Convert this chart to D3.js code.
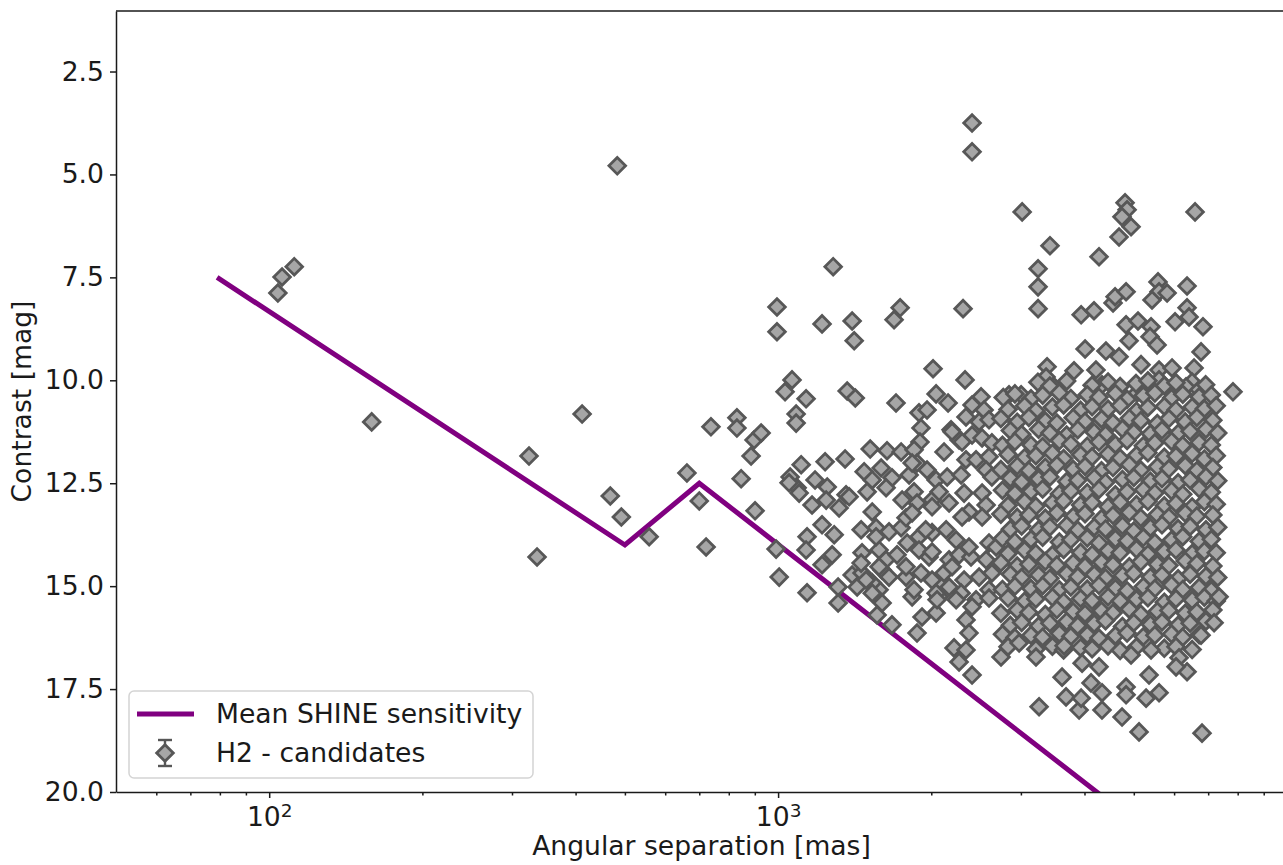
<!DOCTYPE html>
<html>
<head>
<meta charset="utf-8">
<title>H2 candidates vs mean SHINE sensitivity</title>
<script src="https://cdn.jsdelivr.net/npm/d3@7"></script>
<style>
  body { margin: 0; background: #fff; }
  svg text { font-family: "DejaVu Sans", sans-serif; fill: #1a1a1a; }
</style>
</head>
<body>
<svg id="chart" width="1283" height="865"></svg>
<script>
// mean SHINE sensitivity curve [separation mas, contrast mag]
var sensitivity = [[79, 7.5], [500, 14.0], [700, 12.5], [5000, 20.7]];

// tick values
var xMajorTicks = [100, 1000];
var xMinorTicks = [60, 70, 80, 90, 200, 300, 400, 500, 600, 700, 800, 900,
                   2000, 3000, 4000, 5000, 6000, 7000, 8000, 9000];
var yTicks = [2.5, 5.0, 7.5, 10.0, 12.5, 15.0, 17.5, 20.0];

// H2 candidates [separation mas, contrast mag]
var farOutliers = [[104,7.88],[106,7.49],[112,7.24],[159,11.01],[324,11.84],[336,14.29],[412,10.82],
  [468,12.81],[483,4.79],[492,13.32],[558,13.80],[662,12.25],[700,12.93],[722,14.05],[738,11.13],
  [830,10.91],[830,11.16],[846,12.39],[885,11.84],[897,11.45],[926,11.28],[901,13.17]];

var upperScatter = [[995,8.22],[995,8.82],[1283,7.24],[1220,8.63],[1398,8.56],[1411,9.04],[1737,8.24],
  [1690,8.53],[2309,8.26],[2405,3.75],[2405,4.45],[3017,5.91],[3422,6.73],[3242,7.29],[3242,7.73],
  [3242,8.26],[4272,7.00],[4806,5.69],[4850,5.86],[4740,6.03],[4938,6.27],[4677,6.52],[6597,5.91],
  [5579,7.61],[5605,7.85],[5813,7.88],[5430,8.05],[6362,7.71],[6362,8.24],[6026,8.58],[6420,8.46],
  [6838,8.70],[6778,9.31],[7832,10.28],[3940,8.41],[4176,8.31],[4552,8.12],[4594,7.97],[4828,7.85],
  [4828,8.65],[5096,8.56],[5406,8.70],[4894,9.04],[5381,8.94],[5555,9.14],[4011,9.24],[3815,9.77],
  [4408,9.29],[4677,9.43],[4213,9.75],[3377,9.67],[3362,9.92],[3486,10.16],[5166,9.62],[5605,9.75],
  [5945,9.70],[6567,9.70],[6507,10.04],[5605,9.99],[5075,10.31],[4330,10.11],[6333,10.16],[6717,10.23],
  [2330,9.99],[2505,10.40],[2843,10.35],[3003,10.35],[2016,9.72],[1065,9.99],[1032,10.28],[1135,10.45],
  [1367,10.26],[1418,10.43],[1705,10.55],[1085,10.82],[1085,11.04],[2044,10.33],[2158,10.55],
  [1892,10.79],[1962,10.72],[1909,11.16],[1900,11.50]];

var leftCluster = [[1517,11.67],[1637,11.71],[1745,11.74],[1354,11.91],[1237,11.98],[1110,12.05],
  [1056,12.35],[1090,12.61],[1182,12.42],[1249,12.59],[1476,12.22],[1594,12.13],[1531,12.42],
  [1674,12.37],[1166,13.03],[1243,12.91],[1318,13.10],[1360,12.78],[1100,12.74],[1051,12.49],
  [1140,13.80],[1135,14.12],[1220,13.51],[1289,13.75],[1220,14.48],[1277,14.24],[1312,15.02],
  [1312,15.41],[1140,15.16],[991,14.10],[1005,14.78],[1456,13.63],[1531,13.20],[1462,14.19],
  [1398,14.73],[1430,15.02],[1579,15.09],[1601,15.41],[1565,15.70],[1674,15.94],[1875,16.14],
  [1918,15.75],[1834,15.26],[1784,14.78],[2217,16.50],[2340,16.55],[2268,16.84],[2405,17.16],
  [2044,15.65],[2072,15.26],[2100,14.92],[2405,10.60],[2540,10.72],[2340,10.89],[2483,11.01],
  [2597,10.96],[2187,11.20],[2268,11.45],[2405,11.33],[2517,11.40],[2631,11.52],[1850,11.69],
  [2119,11.74],[2340,11.93],[2449,11.93],[2597,11.86],[1809,12.30],[1875,12.01],[1962,12.18],
  [2044,12.42],[2149,12.35],[2289,12.30],[2563,12.18],[2631,12.35],[1379,12.83],[1496,12.71],
  [1630,12.61],[1753,12.91],[1850,12.71],[1875,12.98],[2007,12.91],[2072,12.71],[2168,12.98],
  [2320,12.74],[2372,13.20],[2517,12.74],[2563,13.03],[2517,13.32],[1558,13.58],[1652,13.68],
  [1745,13.58],[1784,13.34],[1892,13.80],[2007,13.70],[2139,13.63],[2238,13.88],[1579,14.12],
  [1630,14.36],[1713,14.24],[1793,13.95],[1892,14.12],[1980,14.29],[2168,14.36],[2268,14.24],
  [2394,14.29],[2597,13.95],[2563,14.36],[2682,14.05],[1462,14.68],[1531,14.92],[1601,14.61],
  [1652,14.78],[1784,14.53],[1850,15.09],[1909,14.68],[2007,14.85],[2044,15.17],[2119,14.68],
  [2168,15.02],[2320,14.85],[2483,14.78],[2597,15.09],[2631,14.68],[1531,15.17],[2053,15.33],
  [2289,15.17],[2449,15.33],[2597,15.29],[1558,13.80],[1579,14.53],[1456,14.44],[1489,14.85],
  [1834,13.22],[2007,13.07],[1950,13.63],[2007,14.17],[2197,14.53],[2299,13.32],[2372,14.05],
  [2238,15.33],[2405,15.50],[2340,15.82],[2372,16.14],[2197,11.25],[2299,11.50],[1834,12.01]];

var coreCluster = [
  [3240,10.05],[3420,10.14],[3690,10.02],[4140,10.12],[4450,10.04],[4700,10.15],[5050,10.08],[5330,10.01],[5740,10.13],[6050,10.06],[6920,10.11],
  [2770,10.42],[2920,10.33],[3140,10.45],[3310,10.36],[3570,10.30],[3760,10.44],[4050,10.35],[4270,10.41],[4600,10.32],[4850,10.46],[5220,10.37],[5500,10.31],[5930,10.43],[6240,10.34],[6720,10.40],[7100,10.36],
  [2830,10.71],[3050,10.62],[3210,10.74],[3460,10.65],[3640,10.60],[3930,10.73],[4140,10.64],[4450,10.70],[4700,10.61],[5060,10.75],[5330,10.66],[5740,10.63],[6050,10.72],[6510,10.65],[6880,10.69],[7260,10.62],
  [2740,10.93],[2950,11.02],[3110,10.90],[3350,10.99],[3530,11.04],[3800,10.91],[4010,11.00],[4320,10.94],[4550,11.03],[4900,10.92],[5160,10.98],[5560,11.05],[5860,10.93],[6310,11.01],[6650,10.90],[7150,10.97],
  [2860,11.22],[3010,11.31],[3250,11.19],[3420,11.28],[3690,11.33],[3880,11.20],[4180,11.26],[4400,11.32],[4750,11.18],[5000,11.27],[5390,11.30],[5680,11.21],[6110,11.29],[6450,11.24],[6930,11.19],[7310,11.28],
  [2760,11.58],[2920,11.49],[3140,11.57],[3310,11.61],[3570,11.47],[3760,11.55],[4050,11.60],[4270,11.50],[4600,11.56],[4850,11.46],[5220,11.59],[5500,11.52],[5930,11.48],[6240,11.58],[6720,11.51],[7100,11.57],
  [2830,11.80],[3050,11.88],[3210,11.83],[3460,11.77],[3640,11.90],[3930,11.81],[4140,11.86],[4450,11.79],[4700,11.89],[5060,11.82],[5330,11.76],[5740,11.87],[6050,11.84],[6510,11.78],[6880,11.91],[7260,11.83],
  [2740,12.17],[2950,12.08],[3110,12.19],[3350,12.11],[3530,12.06],[3800,12.16],[4010,12.09],[4320,12.20],[4550,12.12],[4900,12.05],[5160,12.18],[5560,12.10],[5860,12.15],[6310,12.07],[6650,12.19],[7150,12.12],
  [2860,12.38],[3010,12.47],[3250,12.40],[3420,12.35],[3690,12.46],[3880,12.43],[4180,12.37],[4400,12.48],[4750,12.41],[5000,12.36],[5390,12.45],[5680,12.39],[6110,12.49],[6450,12.42],[6930,12.34],[7310,12.44],
  [2760,12.67],[2920,12.75],[3140,12.70],[3310,12.64],[3570,12.76],[3760,12.69],[4050,12.73],[4270,12.65],[4600,12.78],[4850,12.71],[5220,12.66],[5500,12.74],[5930,12.68],[6240,12.77],[6720,12.63],[7100,12.72],
  [2830,13.04],[3050,12.95],[3210,13.06],[3460,12.98],[3640,12.93],[3930,13.03],[4140,12.97],[4450,13.07],[4700,12.96],[5060,13.02],[5330,12.94],[5740,13.05],[6050,12.99],[6510,13.08],[6880,12.95],[7260,13.01],
  [2740,13.25],[2950,13.33],[3110,13.27],[3350,13.35],[3530,13.22],[3800,13.31],[4010,13.24],[4320,13.36],[4550,13.28],[4900,13.21],[5160,13.34],[5560,13.26],[5860,13.32],[6310,13.23],[6650,13.30],[7150,13.27],
  [2860,13.62],[3010,13.54],[3250,13.63],[3420,13.56],[3690,13.52],[3880,13.64],[4180,13.57],[4400,13.61],[4750,13.53],[5000,13.66],[5390,13.58],[5680,13.51],[6110,13.60],[6450,13.55],[6930,13.63],[7310,13.57],
  [2760,13.84],[2920,13.92],[3140,13.86],[3310,13.81],[3570,13.93],[3760,13.87],[4050,13.83],[4270,13.95],[4600,13.85],[4850,13.90],[5220,13.82],[5500,13.94],[5930,13.88],[6240,13.80],[6720,13.91],[7100,13.86],
  [2830,14.21],[3050,14.13],[3210,14.20],[3460,14.24],[3640,14.11],[3930,14.18],[4140,14.23],[4450,14.14],[4700,14.19],[5060,14.10],[5330,14.22],[5740,14.16],[6050,14.12],[6510,14.21],[6880,14.15],[7260,14.19],
  [2740,14.43],[2950,14.51],[3110,14.47],[3350,14.40],[3530,14.49],[3800,14.44],[4010,14.52],[4320,14.42],[4550,14.48],[4900,14.53],[5160,14.41],[5560,14.47],[5860,14.50],[6310,14.39],[6650,14.45],[7150,14.51],
  [2860,14.71],[3010,14.79],[3250,14.73],[3420,14.81],[3690,14.70],[3880,14.77],[4180,14.72],[4400,14.80],[4750,14.74],[5000,14.69],[5390,14.78],[5680,14.73],[6110,14.82],[6450,14.71],[6930,14.76],[7310,14.79],
  [2760,15.08],[2920,15.00],[3140,15.06],[3310,14.99],[3570,15.09],[3760,15.02],[4050,15.07],[4270,14.98],[4600,15.05],[4850,15.11],[5220,15.01],[5500,15.06],[5930,14.97],[6240,15.08],[6720,15.03],[7100,15.10],
  [2830,15.29],[3050,15.37],[3210,15.31],[3460,15.27],[3640,15.38],[3930,15.30],[4140,15.35],[4450,15.26],[4700,15.36],[5060,15.32],[5330,15.28],[5740,15.39],[6050,15.31],[6510,15.34],[6880,15.27],[7260,15.36],
  [2740,15.66],[2950,15.58],[3110,15.64],[3350,15.69],[3530,15.57],[3800,15.62],[4010,15.67],[4320,15.60],[4550,15.65],[4900,15.56],[5160,15.68],[5560,15.61],[5860,15.59],[6310,15.66],[6650,15.63],[7150,15.58],
  [2860,15.95],[3010,15.88],[3250,15.97],[3420,15.90],[3690,15.86],[3880,15.96],[4180,15.91],[4400,15.84],[4750,15.98],[5000,15.89],[5390,15.93],[5680,15.87],[6110,15.95],[6450,15.90],[6930,15.85],
  [2760,16.17],[2920,16.25],[3140,16.19],[3310,16.24],[3570,16.15],[3760,16.22],[4050,16.18],[4270,16.26],[4600,16.20],[4850,16.14],[5220,16.23],[5500,16.19],[5930,16.16],[6240,16.24],[6720,16.18],
  [2830,16.47],[3210,16.53],[3460,16.46],[3640,16.55],[3930,16.49],[4140,16.52],[4450,16.45],[4700,16.56],[5060,16.48],[5740,16.51],[6050,16.47],[6510,16.54]];

var lowerScatter = [[3257,17.93],[3614,17.21],[3680,17.69],[3904,18.01],[3940,17.72],[4120,17.35],
  [4330,17.59],[4330,18.01],[4741,18.18],[5120,18.54],[4828,17.45],[4828,17.64],[5286,17.72],
  [5605,17.59],[5357,17.16],[6808,18.57],[6136,16.74],[6362,17.08],[6053,16.96],[7354,15.26],
  [7190,15.89],[6778,16.19],[2742,16.72],[3212,16.72],[2976,16.38],[3957,16.87],[3647,16.45],
  [4272,16.96],[4938,16.67],[5406,16.55]];

var candidates = [].concat(farOutliers, upperScatter, leftCluster, coreCluster, lowerScatter);

var lineColor = "#800080";
var markFill = "#a6a6a6";
var markEdge = "#575757";
var fontPx = "26.6px";

var svg = d3.select("#chart");
svg.append("rect").attr("width", 1283).attr("height", 865).attr("fill", "#fff");

var plotLeft = 116, plotTop = 11, plotBottom = 792, plotRight = 1287;

var x = d3.scaleLog().domain([50, 10000]).range([plotLeft, plotRight]);
var y = d3.scaleLinear().domain([1.03, 20]).range([plotTop, plotBottom]);

svg.append("clipPath").attr("id", "plotclip")
  .append("rect").attr("x", plotLeft).attr("y", plotTop)
  .attr("width", plotRight - plotLeft).attr("height", plotBottom - plotTop);

var plot = svg.append("g").attr("clip-path", "url(#plotclip)");

//sensitivity curve
var line = d3.line().x(function(d) { return x(d[0]); }).y(function(d) { return y(d[1]); });
plot.append("path")
  .datum(sensitivity)
  .attr("d", line)
  .attr("fill", "none")
  .attr("stroke", lineColor)
  .attr("stroke-width", 5);

//candidates as diamonds
var diamond = d3.symbol(d3.symbolSquare, 138);
plot.selectAll(".cand")
  .data(candidates)
  .enter().append("path")
  .attr("class", "cand")
  .attr("d", diamond)
  .attr("transform", function(d) { return "translate(" + x(d[0]) + "," + y(d[1]) + ") rotate(45)"; })
  .attr("fill", markFill)
  .attr("stroke", markEdge)
  .attr("stroke-width", 2.8);

//axes
var yAxis = d3.axisLeft(y).tickValues(yTicks).tickFormat(d3.format(".1f"))
  .tickSize(6).tickPadding(6).tickSizeOuter(0);
svg.append("g").attr("transform", "translate(" + plotLeft + ",0)").call(yAxis);

var xMinor = d3.axisBottom(x).tickValues(xMinorTicks).tickFormat("").tickSize(3.5).tickSizeOuter(0);
svg.append("g").attr("transform", "translate(0," + plotBottom + ")").call(xMinor)
  .select(".domain").remove();

var xAxis = d3.axisBottom(x).tickValues(xMajorTicks).tickSize(6).tickPadding(9).tickSizeOuter(0);
var gx = svg.append("g").attr("transform", "translate(0," + plotBottom + ")").call(xAxis);
gx.selectAll(".tick text").each(function(d) {
  var t = d3.select(this);
  t.text("10");
  t.append("tspan").attr("dy", "-0.5em").attr("font-size", "18.5px").text(Math.round(Math.log10(d)));
});

svg.selectAll(".tick text").attr("font-size", fontPx).attr("font-family", "DejaVu Sans").attr("fill", "#1a1a1a");
svg.selectAll(".tick line").attr("stroke", "#1a1a1a").attr("stroke-width", 1.5);
svg.selectAll(".domain").attr("stroke", "#1a1a1a").attr("stroke-width", 1.5);

// top and right spines
svg.append("line").attr("x1", plotLeft).attr("x2", plotRight).attr("y1", plotTop).attr("y2", plotTop)
  .attr("stroke", "#1a1a1a").attr("stroke-width", 1.5);
svg.append("line").attr("x1", plotRight).attr("x2", plotRight).attr("y1", plotTop).attr("y2", plotBottom)
  .attr("stroke", "#1a1a1a").attr("stroke-width", 1.5);

//axis labels
svg.append("text")
  .attr("x", (plotLeft + plotRight) / 2 + 0).attr("y", 855)
  .attr("text-anchor", "middle").attr("font-size", fontPx)
  .text("Angular separation [mas]");
svg.append("text")
  .attr("transform", "translate(31," + ((plotTop + plotBottom) / 2) + ") rotate(-90)")
  .attr("text-anchor", "middle").attr("font-size", fontPx)
  .text("Contrast [mag]");

//legend
var lg = svg.append("g");
lg.append("rect").attr("x", 129).attr("y", 691).attr("width", 404).attr("height", 87)
  .attr("rx", 5).attr("fill", "#fff").attr("fill-opacity", 0.8)
  .attr("stroke", "#d4d4d4").attr("stroke-width", 1.5);
lg.append("line").attr("x1", 137).attr("x2", 194).attr("y1", 714).attr("y2", 714)
  .attr("stroke", lineColor).attr("stroke-width", 5);
lg.append("text").attr("x", 216).attr("y", 723).attr("font-size", fontPx).text("Mean SHINE sensitivity");

var ex = 165, ey = 753;
lg.append("line").attr("x1", ex).attr("x2", ex).attr("y1", ey - 13).attr("y2", ey + 13)
  .attr("stroke", markEdge).attr("stroke-width", 2.4);
[ey - 13, ey + 13].forEach(function(cy) {
  lg.append("line").attr("x1", ex - 7).attr("x2", ex + 7).attr("y1", cy).attr("y2", cy)
    .attr("stroke", markEdge).attr("stroke-width", 2.4);
});
lg.append("path").attr("d", diamond)
  .attr("transform", "translate(" + ex + "," + ey + ") rotate(45)")
  .attr("fill", markFill).attr("stroke", markEdge).attr("stroke-width", 2.8);
lg.append("text").attr("x", 216).attr("y", 762).attr("font-size", fontPx).text("H2 - candidates");
</script>
</body>
</html>
